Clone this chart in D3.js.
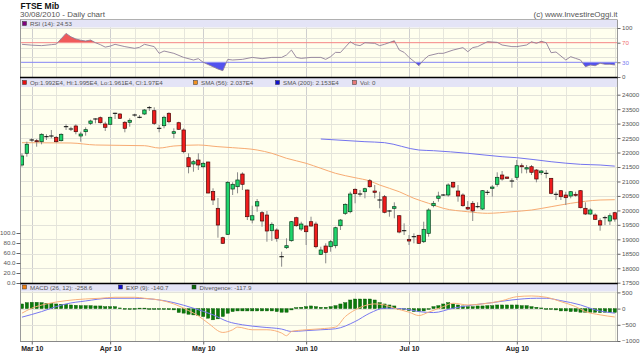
<!DOCTYPE html>
<html><head><meta charset="utf-8">
<script src="https://cdn.jsdelivr.net/npm/d3@7"></script>
<style>
body{margin:0;background:#fff}
svg{display:block}
text{font-family:"Liberation Sans",Arial,sans-serif}
</style>
</head><body>
<svg id="c" width="640" height="364"></svg>
<script>
// ---------------- DATA ----------------
const months = ["Mar 10","Apr 10","May 10","Jun 10","Jul 10","Aug 10"];
const monthIdx = [2,18,37,58,79,101];
const weekIdx = [7,12,23,28,33,42,47,52,63,68,73,81,86,91,96,106,111,116,121];

const open  = [21569,21974,22434,22410,22375,22548,22572,22527,22410,22894,22814,22918,22572,22721,23011,23160,23205,22987,22977,23357,
23333,23046,23046,23298,23219,23333,23551,23447,22838,22928,23357,22665,23032,22780,21822,21604,21742,21510,21673,20653,
20072,19056,19173,20739,20819,21258,20705,19667,20152,19920,19840,19297,19322,18398,18710,18952,19747,19356,19460,19609,
19529,18481,18768,18744,18779,19470,19899,19954,20729,20566,20646,21026,20670,20359,20473,19979,20072,19816,19297,18999,
19090,19139,18917,19207,20162,20418,20532,20532,20971,20670,20532,20106,20245,20128,20048,20625,20764,20902,21223,21154,
21016,21144,21545,21431,21510,21396,21303,21282,21109,20556,20681,20532,20497,20556,20681,20072,19875,19840,19643,19747,
19633,19920];
const high  = [21974,22375,22493,22468,22665,22631,22780,22572,22665,22977,22894,22977,22721,22873,23136,23184,23246,23066,23240,23378,
23357,23091,23184,23343,23298,23506,23610,23565,22952,23274,23392,22838,23066,22838,21974,21742,21974,21683,21683,20764,
20428,19090,21016,20971,21317,21317,20720,20162,20394,19979,19979,19588,19380,18571,19034,19633,19782,19609,19494,19782,
19609,18744,18862,18976,19436,19702,20245,20646,20764,20705,20784,21085,20878,20646,20532,20013,20279,19840,19553,19149,
19207,19149,19609,20072,20324,20646,20566,20936,20992,20878,20591,20324,20324,20279,20705,20705,20878,21317,21362,21165,
21109,21742,21628,21569,21569,21431,21396,21396,21120,20646,20705,20646,20670,20646,20705,20279,20072,19899,19726,19816,
19899,19950];
const low   = [21510,21856,22375,22202,22285,22434,22493,22347,22382,22780,22745,22631,22375,22583,22952,23011,23004,22745,22952,23160,
23160,22700,22894,23240,23184,23298,23437,22952,22700,22838,23011,22493,22780,21974,21282,21337,21396,21455,20591,20186,
19056,18838,19149,20532,20591,20705,19667,19553,19954,19436,18917,18941,18917,18053,18665,18917,19436,19287,18803,19436,
18689,18457,18170,18571,18689,19322,19840,19899,20245,20473,20418,20784,20418,20072,19899,19782,19726,19207,19149,18803,
18862,18838,18872,19090,20106,20300,20497,20473,20764,20300,20128,20013,19633,20072,20013,20532,20473,20819,21026,21085,
20784,21051,21282,21282,21223,20971,21223,21109,20556,20359,20359,20186,20418,20473,20072,19840,19840,19667,19297,19494,
19494,19610];
const close = [21880,22285,22434,22375,22631,22548,22572,22375,22631,22894,22814,22721,22641,22791,23091,23160,23032,22873,23219,23357,
23184,22838,23115,23298,23219,23471,23551,23011,22838,23219,23066,22721,22804,22029,21510,21683,21569,21628,20601,20359,
19494,18862,20971,20902,21051,20902,19782,19816,20300,19633,19287,19519,19034,18398,18779,19609,19470,19529,19263,19460,
18744,18630,18550,18917,19401,19667,20210,20566,20577,20566,20750,20819,20625,20359,19934,19979,20128,19252,19297,18941,
19090,18862,19346,20013,20245,20497,20532,20878,20808,20497,20162,20048,19979,20128,20681,20625,20808,21144,21085,21109,
21016,21545,21510,21476,21317,21085,21362,21282,20591,20556,20473,20439,20646,20532,20093,19875,20013,19691,19494,19747,
19816,19700];

const sma56Idx = [0,10,15,25,28,31,36,40,43,48,51,54,58,61,64,68,71,73,77,80,83,86,91,95,100,104,108,112,118,121];
const sma56Val = [22341,22330,22261,22237,22157,22226,22261,22203,22168,22088,21974,21801,21628,21455,21282,21130,21016,20878,20646,20418,20245,20072,19954,19899,19954,20013,20128,20245,20359,20370];

const sma200Idx = [61,70,74,81,84,91,98,101,108,114,118,121];
const sma200Val = [22468,22375,22341,22088,22064,21974,21856,21822,21683,21593,21569,21530];

const rsiIdx = [0,2,4,6,7,8,9,10,11,12,13,14,15,16,17,18,19,21,23,24,25,27,28,29,31,33,35,36,37,40,41,42,43,45,47,49,51,53,54,55,56,57,59,61,62,63,64,65,67,68,69,70,72,73,74,76,77,78,79,80,81,82,83,85,86,88,90,91,92,93,95,97,98,100,101,103,104,105,106,107,108,109,111,112,113,114,115,116,117,118,119,120,121];
const rsiVal = [66.7,65,64,66,67,78,89,82,77.6,75,73.5,75.5,70,66,61,63,66.7,62,58.5,60.6,66.7,62,48.3,53,48.3,40,34.7,37.4,30,16.3,12.9,36,34.7,36,40,37.4,40,40,45,55,40,38,40,40,36,41.5,50.3,50,72,66,64,70,68.7,64,66.7,74,55,50.3,40,32,23,35,43.5,48.3,48.3,55,60,51.6,60,62,72,70.7,65.3,62,62,65.3,72,68.7,72.8,70,49.6,51,34.7,41.5,38,34.7,21,24.5,23,28,26,26,24.5];

const macdIdx = [0,2,5,9,13,16,19,23,25,28,31,34,36,38,41,43,44,47,50,53,54,55,58,61,64,66,68,70,72,74,76,79,81,83,86,88,91,94,98,101,104,107,110,113,115,118,121];
const macdVal = [-141,12,144,245,298,319,350,350,319,267,144,-61,-224,-448,-736,-653,-571,-653,-653,-755,-837,-705,-653,-623,-571,-245,-40,92,144,113,12,-110,-215,-110,61,166,113,144,245,368,390,350,215,61,-92,-193,-259];

const sigIdx = [0,4,7,9,13,18,23,27,31,35,39,42,45,49,53,55,58,61,64,68,71,74,78,81,84,88,92,96,100,105,107,110,114,117,121];
const sigVal = [-264,-92,61,144,236,319,319,288,184,12,-193,-399,-500,-571,-632,-705,-680,-653,-623,-399,-141,12,-9,-92,-123,12,113,184,267,319,319,245,113,-40,-141];

const divergence = [143,184,194,194,184,164,164,143,133,133,112,102,92,92,92,82,82,61,61,61,
20,5,0,5,15,15,-5,-15,-20,-25,-30,-40,-120,-140,-175,-195,-215,-245,-296,-347,
-317,-245,-143,-92,-72,-72,-72,-72,-72,-72,-72,-72,-92,-112,-112,-41,31,41,61,82,
61,41,41,61,92,143,184,266,296,296,296,296,266,184,143,112,82,0,-20,-61,
-92,-92,-72,-20,61,92,143,184,143,112,82,61,61,82,82,92,92,112,112,112,
112,112,92,92,61,41,20,0,-20,-41,-72,-72,-92,-92,-112,-112,-112,-112,-123,-112,
-123,-118];

const priceTicks = [24000,23500,23000,22500,22000,21500,21000,20500,20000,19500,19000,18500,18000,17500];
const rsiTicks = [100,70,30,0];
const rsiGrid = [20,40,60,80,100];
const macdTicks = [500,0,-500,-1000];
const volTicks = [100,80,60,40,20,0];

// ---------------- LAYOUT ----------------
const svg = d3.select("#c");
const X0 = 20, X1 = 617;
const rsiTop = 27.5, rsiBot = 77;
const mainTop = 87, mainBot = 283;
const macdTop = 291.5, macdBot = 341;

const x = d3.scaleLinear().domain([-0.4, 121.45]).range([X0, X1]);
const yP = d3.scaleLinear().domain([17500, 24000]).range([282.7, 94.7]);
const yR = d3.scaleLinear().domain([0, 100]).range([77, 28]);
const yM = d3.scaleLinear().domain([-1000, 500]).range([341, 292.4]);
const yV = d3.scaleLinear().domain([0, 100]).range([283, 233]);

const BG = "#ffffee", HEAD = "#e4e4f6";
const defs = svg.append("defs");
function clip(id, y0, y1){
  defs.append("clipPath").attr("id", id).append("rect")
    .attr("x", X0).attr("y", y0).attr("width", X1 - X0).attr("height", y1 - y0);
}
clip("cR", rsiTop, rsiBot); clip("cM", mainTop, mainBot); clip("cD", macdTop, macdBot);
clip("cRup", rsiTop, yR(70)); clip("cRdn", yR(30), rsiBot);

// titles
svg.append("text").attr("x", 20.5).attr("y", 8.5).attr("font-size", 8.5).attr("font-weight", "bold").attr("fill", "#111").text("FTSE Mib");
svg.append("text").attr("x", 20).attr("y", 16.5).attr("font-size", 8).attr("fill", "#555").text("30/08/2010 - Daily chart");
svg.append("text").attr("x", 617.5).attr("y", 17).attr("font-size", 8).attr("fill", "#555").attr("text-anchor", "end").text("(c) www.InvestireOggi.it");

// backgrounds
svg.append("rect").attr("x", X0).attr("y", 19.5).attr("width", X1 - X0).attr("height", macdBot - 19.5).attr("fill", BG);
svg.append("rect").attr("x", X0).attr("y", 19.5).attr("width", X1 - X0).attr("height", rsiTop - 19.5).attr("fill", HEAD);
svg.append("rect").attr("x", X0).attr("y", 78).attr("width", X1 - X0).attr("height", mainTop - 78).attr("fill", HEAD);
svg.append("rect").attr("x", X0).attr("y", 284).attr("width", X1 - X0).attr("height", macdTop - 284).attr("fill", HEAD);

// vertical grid
function vgrid(y0, y1){
  const g = svg.append("g");
  g.selectAll(".w").data(weekIdx).enter().append("line")
    .attr("x1", d => Math.round(x(d)) + 0.5).attr("x2", d => Math.round(x(d)) + 0.5)
    .attr("y1", y0).attr("y2", y1).attr("stroke", "#e6e6dc").attr("stroke-width", 1);
  g.selectAll(".m").data(monthIdx).enter().append("line")
    .attr("x1", d => Math.round(x(d)) + 0.5).attr("x2", d => Math.round(x(d)) + 0.5)
    .attr("y1", y0).attr("y2", y1).attr("stroke", "#cfcfcf").attr("stroke-width", 1);
}
vgrid(rsiTop, rsiBot); vgrid(mainTop, mainBot); vgrid(macdTop, macdBot);

// horizontal grid
function hgrid(vals, sc){
  svg.append("g").selectAll("line").data(vals).enter().append("line")
    .attr("x1", X0).attr("x2", X1)
    .attr("y1", d => Math.round(sc(d)) + 0.5).attr("y2", d => Math.round(sc(d)) + 0.5)
    .attr("stroke", "#e3e3da").attr("stroke-width", 1);
}
hgrid(rsiGrid, yR); hgrid(priceTicks, yP); hgrid([500, 0, -500], yM);

// ---------------- RSI ----------------
const rsiData = rsiIdx.map((d, i) => ({i: d, v: rsiVal[i]}));
svg.append("path").datum(rsiData).attr("clip-path", "url(#cRup)")
  .attr("d", d3.area().x(d => x(d.i)).y0(yR(70)).y1(d => yR(d.v)))
  .attr("fill", "#f05a5a");
svg.append("path").datum(rsiData).attr("clip-path", "url(#cRdn)")
  .attr("d", d3.area().x(d => x(d.i)).y0(yR(30)).y1(d => yR(d.v)))
  .attr("fill", "#5252ee");
svg.append("line").attr("x1", X0).attr("x2", X1).attr("y1", yR(70)).attr("y2", yR(70)).attr("stroke", "#f58a8a");
svg.append("line").attr("x1", X0).attr("x2", X1).attr("y1", yR(30)).attr("y2", yR(30)).attr("stroke", "#8a8af5");
svg.append("path").datum(rsiData).attr("clip-path", "url(#cR)")
  .attr("d", d3.line().x(d => x(d.i)).y(d => yR(d.v)))
  .attr("fill", "none").attr("stroke", "#8e7f99").attr("stroke-width", 0.9);

// ---------------- MAIN ----------------
const gMain = svg.append("g").attr("clip-path", "url(#cM)");
const candles = open.map((o, i) => ({i, o, h: high[i], l: low[i], c: close[i]}));
const sma56 = sma56Idx.map((d, i) => ({i: d, v: sma56Val[i]}));
const sma200 = sma200Idx.map((d, i) => ({i: d, v: sma200Val[i]}));
const lineP = d3.line().curve(d3.curveMonotoneX).x(d => x(d.i)).y(d => yP(d.v));
gMain.append("path").datum(sma56).attr("d", lineP).attr("fill", "none").attr("stroke", "#f7ab73").attr("stroke-width", 1);
gMain.append("path").datum(sma200).attr("d", lineP).attr("fill", "none").attr("stroke", "#7474ee").attr("stroke-width", 1);

const cg = gMain.selectAll(".cd").data(candles).enter().append("g");
cg.append("line").attr("x1", d => x(d.i)).attr("x2", d => x(d.i))
  .attr("y1", d => yP(d.h)).attr("y2", d => yP(d.l)).attr("stroke", "#8a8a8a").attr("stroke-width", 1);
cg.filter(d => d.o !== d.c).append("rect")
  .attr("x", d => x(d.i) - 1.7).attr("width", 3.4)
  .attr("y", d => yP(Math.max(d.o, d.c)))
  .attr("height", d => Math.max(1, yP(Math.min(d.o, d.c)) - yP(Math.max(d.o, d.c))))
  .attr("fill", d => d.c > d.o ? "#1fd56c" : "#f01c1c")
  .attr("stroke", d => d.c > d.o ? "#0a3a1a" : "#4a0808").attr("stroke-width", 0.7);
cg.filter(d => d.o === d.c).append("line")
  .attr("x1", d => x(d.i) - 2.2).attr("x2", d => x(d.i) + 2.2)
  .attr("y1", d => yP(d.o)).attr("y2", d => yP(d.o)).attr("stroke", "#000").attr("stroke-width", 1);

// ---------------- MACD ----------------
const gD = svg.append("g").attr("clip-path", "url(#cD)");
gD.selectAll(".b").data(divergence).enter().append("rect")
  .attr("x", (d, i) => x(i) - 1.6).attr("width", 3.2)
  .attr("y", d => Math.min(yM(0), yM(d)))
  .attr("height", d => Math.max(0.8, Math.abs(yM(d) - yM(0))))
  .attr("fill", "#0a7a0a").attr("stroke", "#045004").attr("stroke-width", 0.4);
const lineM = d3.line().curve(d3.curveMonotoneX).x(d => x(d.i)).y(d => yM(d.v));
gD.append("path").datum(sigIdx.map((d, i) => ({i: d, v: sigVal[i]}))).attr("d", lineM)
  .attr("fill", "none").attr("stroke", "#7878f0").attr("stroke-width", 1);
gD.append("path").datum(macdIdx.map((d, i) => ({i: d, v: macdVal[i]}))).attr("d", lineM)
  .attr("fill", "none").attr("stroke", "#f8b07c").attr("stroke-width", 1);

// ---------------- FRAME ----------------
svg.append("line").attr("x1", X0).attr("x2", X1).attr("y1", 19.5).attr("y2", 19.5).attr("stroke", "#b0b0b0");
svg.append("line").attr("x1", X0 + 0.5).attr("x2", X0 + 0.5).attr("y1", 19.5).attr("y2", macdBot).attr("stroke", "#9a9a9a");
svg.append("line").attr("x1", X1 + 0.5).attr("x2", X1 + 0.5).attr("y1", 19.5).attr("y2", macdBot).attr("stroke", "#9a9a9a");
svg.append("line").attr("x1", X0).attr("x2", X1 + 1).attr("y1", macdBot + 0.5).attr("y2", macdBot + 0.5).attr("stroke", "#888");
svg.append("line").attr("x1", X0).attr("x2", X1 + 1).attr("y1", 77.5).attr("y2", 77.5).attr("stroke", "#000").attr("stroke-width", 1.3);
svg.append("line").attr("x1", X0).attr("x2", X1 + 1).attr("y1", 283.5).attr("y2", 283.5).attr("stroke", "#000").attr("stroke-width", 1.3);

// legends
function legend(items, y){
  items.forEach(it => {
    svg.append("rect").attr("x", it.x + 0.5).attr("y", y - 4.5).attr("width", 4).attr("height", 4)
      .attr("fill", it.c).attr("stroke", "#333").attr("stroke-width", 0.5);
    svg.append("text").attr("x", it.x + 8).attr("y", y).attr("font-size", 6.2).attr("fill", "#555").text(it.t);
  });
}
legend([{x: 22, c: "#800080", t: "RSI (14): 24.53"}], 26);
legend([
  {x: 22, c: "#e81010", t: "Op:1.992E4, Hi:1.995E4, Lo:1.961E4, Cl:1.97E4"},
  {x: 193, c: "#f09020", t: "SMA (56): 2.037E4"},
  {x: 275, c: "#1010d0", t: "SMA (200): 2.153E4"},
  {x: 352, c: "#e87878", t: "Vol: 0"}
], 85);
legend([
  {x: 22, c: "#f08010", t: "MACD (26, 12): -258.6"},
  {x: 118, c: "#1010d0", t: "EXP (9): -140.7"},
  {x: 191.5, c: "#0a6a0a", t: "Divergence: -117.9"}
], 289.5);

// axes
function styleAxis(g, size, color, weight){
  g.select(".domain").remove();
  g.selectAll(".tick line").attr("stroke", "#666");
  g.selectAll(".tick text").attr("font-size", size).attr("fill", color)
    .attr("font-family", '"Liberation Sans",Arial,sans-serif').attr("font-weight", weight || "normal");
}
const aR = svg.append("g").attr("transform", `translate(${X1 + 0.5},0)`)
  .call(d3.axisRight(yR).tickValues(rsiTicks).tickSize(3).tickPadding(1.5).tickFormat(d3.format("d")));
styleAxis(aR, 6.2, "#555");
aR.selectAll(".tick text").attr("fill", d => d === 70 ? "#f07070" : d === 30 ? "#7a7af0" : "#555");
const aP = svg.append("g").attr("transform", `translate(${X1 + 0.5},0)`)
  .call(d3.axisRight(yP).tickValues(priceTicks).tickSize(3).tickPadding(1.5).tickFormat(d3.format("d")));
styleAxis(aP, 6.2, "#555");
const aM = svg.append("g").attr("transform", `translate(${X1 + 0.5},0)`)
  .call(d3.axisRight(yM).tickValues(macdTicks).tickSize(3).tickPadding(1.5).tickFormat(d3.format("d")));
styleAxis(aM, 6.2, "#555");
const aV = svg.append("g").attr("transform", `translate(${X0 + 0.5},0)`)
  .call(d3.axisLeft(yV).tickValues(volTicks).tickSize(4).tickPadding(1).tickFormat(d3.format(".1f")));
styleAxis(aV, 6.2, "#555");
const aX = svg.append("g").attr("transform", `translate(0,${macdBot + 0.5})`)
  .call(d3.axisBottom(x).tickValues(monthIdx).tickSize(3).tickPadding(1.5).tickFormat((d, i) => months[i]));
styleAxis(aX, 7, "#222", "bold");
</script>
</body></html>
